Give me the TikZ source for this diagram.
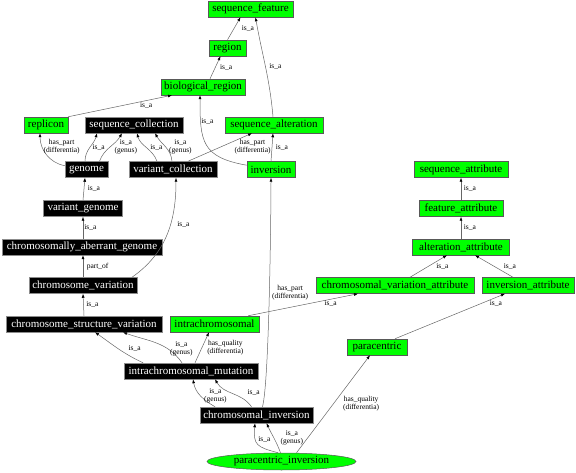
\documentclass[tikz,border=0pt]{standalone}
\usepackage{fontspec}
\setmainfont{Liberation Serif}
\usetikzlibrary{arrows.meta,shapes.geometric}
\definecolor{gfill}{RGB}{0,255,0}
\begin{document}
\begin{tikzpicture}[x=1pt,y=1pt,
  nb/.style={draw=black!65, line width=0.5pt, font=\fontsize{11}{12}\selectfont, inner xsep=2pt, inner ysep=0pt, minimum height=16pt},
  gn/.style={nb, fill=gfill, text=black},
  bk/.style={nb, fill=black, text=white, draw=black!45},
  e/.style={draw=black!60, line width=0.5pt, -{Latex[length=4pt,width=3pt,color=black]}},
  lbl/.style={font=\fontsize{7.5}{8}\selectfont, align=center, inner sep=0.5pt, text=black}]
\useasboundingbox (0,0) rectangle (576,-473);
% nodes
\node[gn,minimum width=85pt] (sf) at (250.5,-9) {sequence\_feature};
\node[gn,minimum width=37pt] (region) at (227.5,-48) {region};
\node[gn,minimum width=84pt] (bioreg) at (203,-87) {biological\_region};
\node[gn,minimum width=44pt] (replicon) at (46,-125) {replicon};
\node[bk,minimum width=98pt] (seqcoll) at (134,-125) {sequence\_collection};
\node[gn,minimum width=98pt] (seqalt) at (274,-125) {sequence\_alteration};
\node[bk,minimum width=43pt] (genome) at (86.5,-169.5) {genome};
\node[bk,minimum width=88pt] (varcoll) at (173,-169.5) {variant\_collection};
\node[gn,minimum width=48pt] (inversion) at (271,-169.5) {inversion};
\node[gn,minimum width=94pt] (seqattr) at (461,-169.5) {sequence\_attribute};
\node[bk,minimum width=79pt] (vargenome) at (83,-208.5) {variant\_genome};
\node[gn,minimum width=84pt] (featattr) at (461,-208.5) {feature\_attribute};
\node[bk,minimum width=160pt] (cag) at (82,-247) {chromosomally\_aberrant\_genome};
\node[gn,minimum width=97pt] (altattr) at (461,-247) {alteration\_attribute};
\node[bk,minimum width=108pt] (chromvar) at (83,-285.5) {chromosome\_variation};
\node[gn,minimum width=158pt] (cva) at (395,-285.5) {chromosomal\_variation\_attribute};
\node[gn,minimum width=92pt] (invattr) at (528,-285.5) {inversion\_attribute};
\node[bk,minimum width=156pt] (csv) at (84,-324) {chromosome\_structure\_variation};
\node[gn,minimum width=89pt] (intrachrom) at (214.5,-324) {intrachromosomal};
\node[gn,minimum width=60pt] (paracentric) at (377,-347) {paracentric};
\node[bk,minimum width=134pt] (icm) at (191,-371) {intrachromosomal\_mutation};
\node[bk,minimum width=113pt] (chrominv) at (256.5,-415) {chromosomal\_inversion};
\node[draw=black!65, line width=0.5pt, fill=gfill, ellipse, inner sep=0pt, minimum width=149pt, minimum height=17pt, font=\fontsize{11}{12}\selectfont] (parainv) at (281.5,-461.5) {paracentric\_inversion};
% edges
\draw[e] (region.north) -- node[lbl,right=7pt]{is\_a} ([xshift=-10pt]sf.south);
\draw[e] ([xshift=-1pt]seqalt.north) to[out=95,in=-80] node[lbl,right=3pt]{is\_a} ([xshift=5pt]sf.south);
\draw[e] ([xshift=7pt]bioreg.north) -- node[lbl,right=4pt]{is\_a} ([xshift=-7pt]region.south);
\draw[e] (replicon.north east) -- node[lbl,pos=0.75,below=1pt]{is\_a} ([xshift=-31pt]bioreg.south);
\draw[e] (inversion.170) to[out=170,in=-90,looseness=1.4] node[lbl,pos=0.78,right=0pt]{is\_a} ([xshift=-3pt]bioreg.south);
\draw[e] (genome.170) to[out=170,in=-90] node[lbl,pos=0.7,right=0.5pt]{has\_part\\(differentia)} ([xshift=-6pt]replicon.south);
\draw[e] ([xshift=-1.5pt]genome.north) to[out=90,in=-105] node[lbl,right=2pt]{is\_a} ([xshift=-37pt]seqcoll.south);
\draw[e] ([xshift=13pt]genome.north) to[out=70,in=-120] node[lbl,right=4pt]{is\_a\\(genus)} ([xshift=-12pt]seqcoll.south);
\draw[e] ([xshift=-16pt]varcoll.north) to[out=110,in=-75] node[lbl,right=3pt]{is\_a} ([xshift=3pt]seqcoll.south);
\draw[e] ([xshift=-1pt]varcoll.north) to[out=95,in=-60] node[lbl,right=3pt]{is\_a\\(genus)} ([xshift=21pt]seqcoll.south);
\draw[e] ([xshift=15pt]varcoll.north) -- node[lbl,pos=0.9,below=2pt,xshift=7pt]{has\_part\\(differentia)} ([xshift=-22pt]seqalt.south);
\draw[e] (inversion.north) -- node[lbl,right=3pt]{is\_a} ([xshift=-1pt]seqalt.south);
\draw[e] (vargenome.north) -- node[lbl,right=3pt]{is\_a} ([xshift=-1.5pt]genome.south);
\draw[e] ([xshift=1pt]cag.north) -- node[lbl,right=0.5pt]{is\_a} (vargenome.south);
\draw[e] (chromvar.north) -- node[lbl,right=3pt]{part\_of} ([xshift=1pt]cag.south);
\draw[e] ([xshift=49pt]chromvar.north) to[out=35,in=-90] node[lbl,pos=0.6,right=6pt]{is\_a} ([xshift=3pt]varcoll.south);
\draw[e] (csv.north) -- node[lbl,right=2pt]{is\_a} (chromvar.south);
\draw[e] ([xshift=-48pt]icm.north) to[out=155,in=-35] node[lbl,pos=0.15,above=6pt]{is\_a} ([xshift=11pt]csv.south);
\draw[e] ([xshift=-9pt]icm.north) to[out=125,in=-20] node[lbl,pos=0.3,right=2pt]{is\_a\\(genus)} ([xshift=39pt]csv.south);
\draw[e] ([xshift=4pt]icm.north) -- node[lbl,right=4.5pt]{has\_quality\\(differentia)} ([xshift=-5.5pt]intrachrom.south);
\draw[e] ([xshift=-11pt]intrachrom.north east) -- node[lbl,pos=0.75,below=1pt]{is\_a} ([xshift=-37pt]cva.south);
\draw[e] ([xshift=-41.5pt]chrominv.north) to[out=150,in=-80] node[lbl,right=3pt]{is\_a\\(genus)} ([xshift=2pt]icm.south);
\draw[e] ([xshift=-5pt]chrominv.north) to[out=125,in=-60] node[lbl,pos=0.3,anchor=west,xshift=6pt,yshift=5pt]{is\_a} ([xshift=24pt]icm.south);
\draw[e] ([xshift=6pt]chrominv.north) to[out=75,in=-90,looseness=0.3] node[lbl,pos=0.5,right=2pt]{has\_part\\(differentia)} (inversion.south);
\draw[e] ([xshift=18pt]paracentric.north) -- node[lbl,pos=0.88,below=1pt,xshift=4pt]{is\_a} ([xshift=-23pt]invattr.south);
\draw[e] ([xshift=-15pt]invattr.north) -- node[lbl,right=9pt]{is\_a} ([xshift=14pt]altattr.south);
\draw[e] ([xshift=15pt]cva.north) -- node[lbl,right=7pt]{is\_a} ([xshift=-14pt]altattr.south);
\draw[e] (altattr.north) -- node[lbl,right=2pt]{is\_a} (featattr.south);
\draw[e] (featattr.north) -- node[lbl,right=2pt]{is\_a} (seqattr.south);
\draw[e] ([xshift=-3.5pt]parainv.north) to[out=165,in=-95,looseness=1.5] node[lbl,pos=0.65,right=2pt]{is\_a} ([xshift=-1.5pt]chrominv.south);
\draw[e] ([xshift=-1pt]parainv.north) to[out=110,in=-65] node[lbl,right=6pt]{is\_a\\(genus)} ([xshift=10pt]chrominv.south);
\draw[e] ([xshift=15pt]parainv.north) -- node[lbl,right=9pt]{has\_quality\\(differentia)} ([xshift=-7pt]paracentric.south);
\end{tikzpicture}
\end{document}
